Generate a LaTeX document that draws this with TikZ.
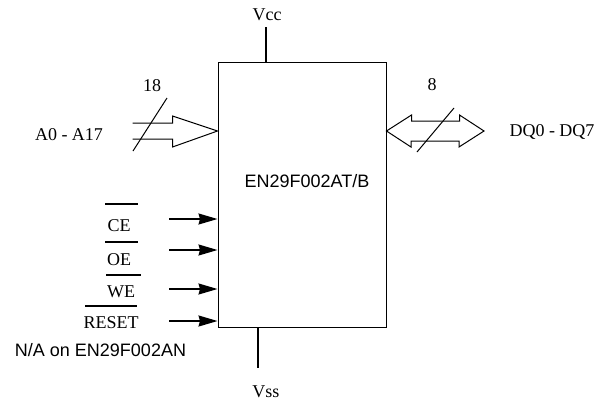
\documentclass[tikz,border=0pt]{standalone}
\usepackage{fontspec}
\setmainfont{Liberation Serif}
\setsansfont{Liberation Sans}
\usetikzlibrary{arrows.meta,positioning}

\begin{document}
\begin{tikzpicture}[x=1pt,y=-1pt,
    every node/.style={font=\fontsize{18}{20}\selectfont, inner sep=0pt},
    sig/.style={-{Stealth[length=19pt,width=11pt,inset=1.5pt]}, line width=1.4pt},
    bus/.style={line width=1pt, line join=miter},
    pin/.style={line width=1.2pt},
    bar/.style={line width=1.1pt}]
    \useasboundingbox (0,0) rectangle (610,405);

    % 芯片主体
    \node[draw, line width=1pt, minimum width=168pt, minimum height=265pt] (chip) at (302,194.5) {};
    \node[font=\sffamily\fontsize{18}{20}\selectfont] (name) at (307,181) {EN29F002AT/B};

    % 电源引脚
    \node (vcc) at (267,15) {Vcc};
    \node (vss) at (266,392) {Vss};
    \draw[pin] ([xshift=-1pt,yshift=-6pt]vcc.south) -- ([xshift=-1pt]vcc.south |- chip.north);
    \coordinate (vssend) at (258,368);
    \draw[pin] (vssend |- chip.south) -- (vssend);

    % 地址总线
    \node (addr) at (69,135) {A0 - A17};
    \node (nA) at (152,86) {18};
    \coordinate (atip) at (chip.west |- 0,131);
    \draw[bus] (atip) ++(-85,-8) -- ++(40,0) -- ++(0,-7) -- (atip)
        -- ++(-45,16) -- ++(0,-8) -- ++(-40,0);
    \draw[bus] (167,98) -- (133,151);

    % 数据总线
    \node (data) at (552,132) {DQ0 - DQ7};
    \node (nD) at (432,85) {8};
    \coordinate (dql) at (chip.east |- 0,131);
    \coordinate (dqr) at (484,131);
    \draw[bus] (dql) -- ++(25,-16) -- ++(0,6) -- ++(48,0) -- ++(0,-6) -- (dqr)
        -- ++(-25,16) -- ++(0,-6) -- ++(-48,0) -- ++(0,6) -- cycle;
    \draw[bus] (454,108) -- (417,152);

    % 控制信号
    \node (ce) at (119,226) {CE};
    \node (oe) at (119,260) {OE};
    \node (we) at (121,292) {WE};
    \node (rst) at (111,323) {RESET};
    \draw[bar] (105,204) -- (138,204);
    \draw[bar] (105,242) -- (138,242);
    \draw[bar] (106,275) -- (141,275);
    \draw[bar] (85,306) -- (137,306);
    \coordinate (cein) at (169,219);
    \coordinate (oein) at (169,250);
    \coordinate (wein) at (169,289);
    \coordinate (rstin) at (169,321);
    \draw[sig] (cein) -- (cein -| chip.west);
    \draw[sig] (oein) -- (oein -| chip.west);
    \draw[sig] (wein) -- (wein -| chip.west);
    \draw[sig] (rstin) -- (rstin -| chip.west);

    \node[font=\sffamily\fontsize{18}{20}\selectfont] (note) at (100.5,350) {N/A on EN29F002AN};
\end{tikzpicture}
\end{document}
